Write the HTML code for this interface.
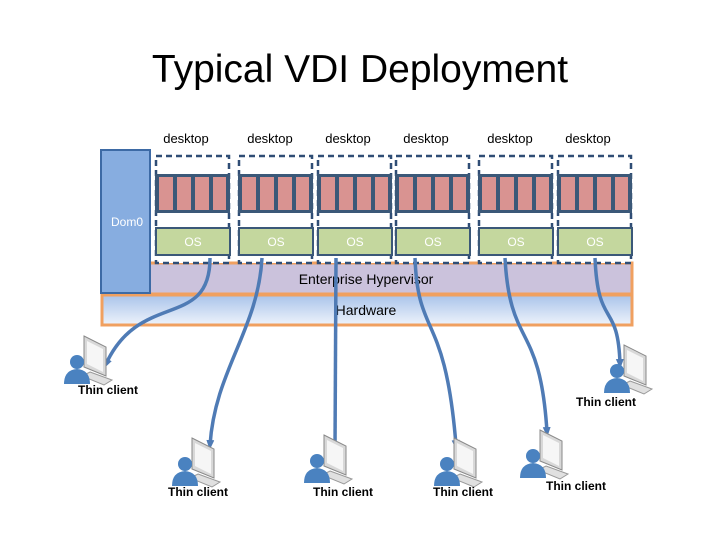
<!DOCTYPE html>
<html><head><style>
body{margin:0;background:#fff;}
svg{display:block;}
text{font-family:"Liberation Sans",sans-serif;}
</style></head><body>
<svg width="720" height="540" viewBox="0 0 720 540">
<defs>
<linearGradient id="hw" x1="0" y1="0" x2="0" y2="1"><stop offset="0" stop-color="#a9c3ea"/><stop offset="1" stop-color="#eef3fb"/></linearGradient>
<marker id="ar" markerUnits="userSpaceOnUse" markerWidth="10" markerHeight="10" refX="5" refY="5" orient="auto"><path d="M0,1 L10,5 L0,9 z" fill="#4f7bb5"/></marker>
<g id="cl">
 <path d="M20,0 L42,11 L42,40 L20,31 z" fill="#d8d8d8" stroke="#8a8a8a"/>
 <path d="M23,5 L39,13 L39,36 L23,28 z" fill="#f6f6f6"/>
 <path d="M26,36 L48,44 L40,49 L18,40 z" fill="#e0e0e0" stroke="#999"/>
 <circle cx="13" cy="26" r="7" fill="#4a82c0"/>
 <path d="M0,48 Q0,34 13,33 Q26,34 26,48 z" fill="#4a82c0"/>
</g>
</defs>
<text x="360" y="82" font-size="39" text-anchor="middle" fill="#000">Typical VDI Deployment</text>
<rect x="102" y="295" width="530" height="30" fill="url(#hw)" stroke="#f0a060" stroke-width="3"/>
<text x="366" y="315" font-size="14" text-anchor="middle">Hardware</text>
<rect x="102" y="263" width="530" height="31" fill="#cbc2dc" stroke="#f0a060" stroke-width="3"/>
<text x="366" y="284" font-size="14" text-anchor="middle">Enterprise Hypervisor</text>
<rect x="101" y="150" width="49" height="143" fill="#87ade0" stroke="#3d6aa5" stroke-width="2"/>
<text x="127" y="226" font-size="12" fill="#fff" text-anchor="middle">Dom0</text>
<g font-size="13" text-anchor="middle">
<text x="186" y="143">desktop</text><text x="270" y="143">desktop</text><text x="348" y="143">desktop</text><text x="426" y="143">desktop</text><text x="510" y="143">desktop</text><text x="588" y="143">desktop</text>
</g>
<g id="col">
 <rect x="156" y="156" width="73" height="107" fill="#fff" stroke="#2f4d75" stroke-width="2.5" stroke-dasharray="6,4"/>
 <rect x="155" y="174" width="75" height="39" fill="#3b5878"/>
 <rect x="159" y="177" width="14" height="33" fill="#d99391"/><rect x="177" y="177" width="14" height="33" fill="#d99391"/><rect x="195" y="177" width="14" height="33" fill="#d99391"/><rect x="213" y="177" width="13" height="33" fill="#d99391"/>
 <rect x="156" y="228" width="74" height="27" fill="#c4d79e" stroke="#3b5878" stroke-width="2"/>
 <text x="193" y="246" font-size="12" fill="#fff" text-anchor="middle">OS</text>
</g>
<use href="#col" x="83"/><use href="#col" x="162"/><use href="#col" x="240"/><use href="#col" x="323"/><use href="#col" x="402"/>
<g fill="none" stroke="#4f7bb5" stroke-width="3.5" marker-end="url(#ar)">
<path d="M210,258 C210,330 140,290 106,364"/>
<path d="M262,258 C258,330 215,370 210,445"/>
<path d="M336,258 L335,450"/>
<path d="M415,258 C418,340 445,310 456,445"/>
<path d="M505,258 C510,350 540,320 547,432"/>
<path d="M595,258 C598,330 618,300 620,364"/>
</g>
<use href="#cl" x="64" y="336"/>
<use href="#cl" x="172" y="438"/>
<use href="#cl" x="304" y="435"/>
<use href="#cl" x="434" y="438"/>
<use href="#cl" x="520" y="430"/>
<use href="#cl" x="604" y="345"/>
<g font-size="12" text-anchor="middle" font-weight="bold" fill="#000">
<text x="108" y="394">Thin client</text>
<text x="198" y="496">Thin client</text>
<text x="343" y="496">Thin client</text>
<text x="463" y="496">Thin client</text>
<text x="576" y="490">Thin client</text>
<text x="606" y="406">Thin client</text>
</g>
</svg>
</body></html>
